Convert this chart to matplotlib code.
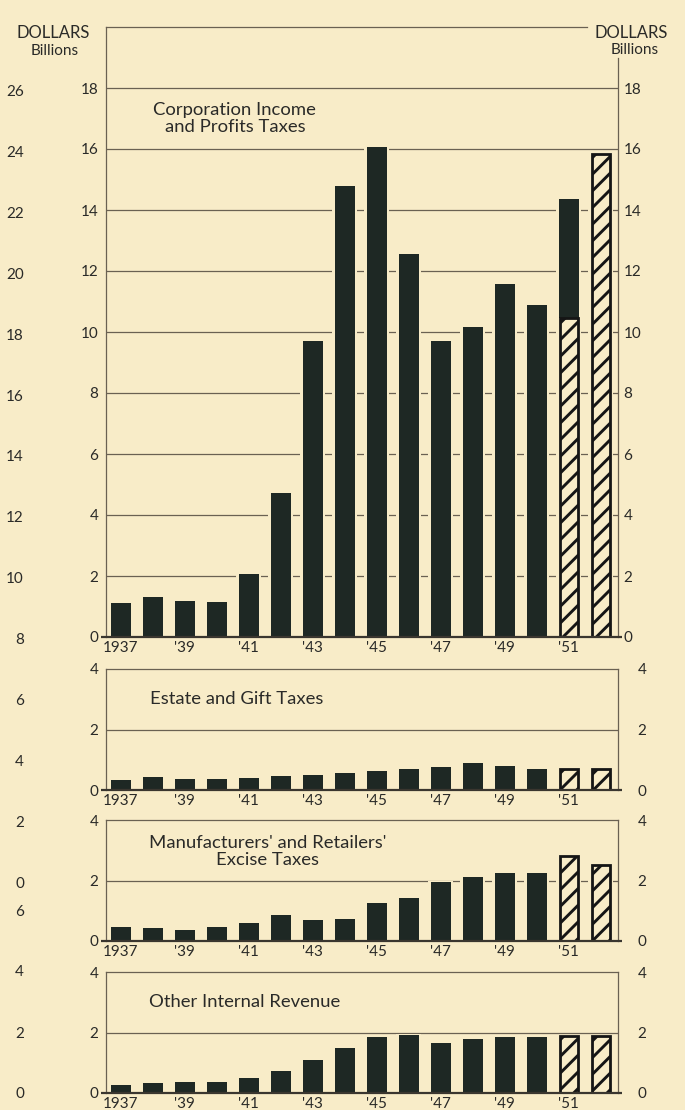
import matplotlib
matplotlib.use("Agg")
import matplotlib.pyplot as plt
import numpy as np

# ---------------- data ----------------
years = list(range(1937, 1953))
year_tick_years = [1937, 1939, 1941, 1943, 1945, 1947, 1949, 1951]
year_tick_labels = ["1937", "'39", "'41", "'43", "'45", "'47", "'49", "'51"]

# Corporation income and profits taxes (billions of dollars)
corp_total = [1.12, 1.32, 1.17, 1.16, 2.08, 4.72, 9.71, 14.80, 16.08, 12.57,
              9.71, 10.18, 11.57, 10.87, 14.37, 15.82]
corp_hatched = [0, 0, 0, 0, 0, 0, 0, 0, 0, 0, 0, 0, 0, 0, 10.47, 15.82]

# Estate and gift taxes
estate_total = [0.32, 0.43, 0.36, 0.36, 0.41, 0.45, 0.48, 0.55, 0.64, 0.69,
                0.76, 0.90, 0.79, 0.68, 0.71, 0.69]
estate_hatched = [0, 0, 0, 0, 0, 0, 0, 0, 0, 0, 0, 0, 0, 0, 0.71, 0.69]

# Manufacturers' and retailers' excise taxes
excise_total = [0.47, 0.42, 0.36, 0.47, 0.61, 0.86, 0.70, 0.72, 1.25, 1.43,
                1.96, 2.13, 2.24, 2.26, 2.81, 2.52]
excise_hatched = [0, 0, 0, 0, 0, 0, 0, 0, 0, 0, 0, 0, 0, 0, 2.81, 2.52]

# Other internal revenue
other_total = [0.27, 0.32, 0.35, 0.37, 0.49, 0.73, 1.10, 1.50, 1.86, 1.93,
               1.66, 1.77, 1.84, 1.84, 1.87, 1.87]
other_hatched = [0, 0, 0, 0, 0, 0, 0, 0, 0, 0, 0, 0, 0, 0, 1.87, 1.87]

panel_titles = ["Corporation Income\nand Profits Taxes",
                "Estate and Gift Taxes",
                "Manufacturers' and Retailers'\nExcise Taxes",
                "Other Internal Revenue"]

main_ticks = [0, 2, 4, 6, 8, 10, 12, 14, 16, 18]
sub_ticks = [0, 2, 4]
# axis labels of the neighbouring chart visible at the left edge
side_ticks_upper = [0, 2, 4, 6, 8, 10, 12, 14, 16, 18, 20, 22, 24, 26]
side_ticks_lower = [0, 2, 4, 6]

# ---------------- style ----------------
BG = "#F8ECC8"
BAR = "#1E2824"
LINE = "#6A6152"
TXT = "#2A2A28"
FONT = "Lato"
TICK_FS = 11
TITLE_FS = 13.3

plt.rcParams["font.family"] = [FONT, "DejaVu Sans"]
plt.rcParams["hatch.linewidth"] = 2.1
plt.rcParams["hatch.color"] = "#151515"

W_PX, H_PX = 685, 1110
fig = plt.figure(figsize=(W_PX / 100, H_PX / 100), dpi=100, facecolor=BG)

X_LEFT_PX, X_RIGHT_PX = 106.5, 618.0


def add_ax(top_px, bottom_px):
    return fig.add_axes([X_LEFT_PX / W_PX, 1 - bottom_px / H_PX,
                         (X_RIGHT_PX - X_LEFT_PX) / W_PX,
                         (bottom_px - top_px) / H_PX])


x = np.arange(len(years))
XMIN, XMAX = -0.44, 15.54
BW = 0.62


def draw_panel(ax, total, hatched, ymax, ticks, grid_vals, right_pad):
    ax.set_facecolor(BG)
    ax.set_xlim(XMIN, XMAX)
    ax.set_ylim(0, ymax)
    for g in grid_vals:
        ax.axhline(g, color=LINE, lw=0.9, zorder=1)
    total = np.array(total, dtype=float)
    hatched = np.array(hatched, dtype=float)
    # background halo that interrupts grid lines around bars
    ax.bar(x, total + ymax * 0.004, width=BW + 0.17, color=BG, zorder=1.5,
           linewidth=0)
    dark_h = total - hatched
    m = dark_h > 0
    ax.bar(x[m], dark_h[m], bottom=hatched[m], width=BW, color=BAR,
           zorder=3, linewidth=0)
    h = hatched > 0
    ax.bar(x[h], hatched[h], width=BW - 0.05, facecolor=BG,
           edgecolor="#151515", hatch="//", linewidth=2.0, zorder=3)
    # baseline slightly longer than the frame
    ax.plot([XMIN - 0.17, XMAX + 0.12], [0, 0], color="#3a362f", lw=1.6,
            clip_on=False, zorder=4, solid_capstyle="butt")
    for s in ax.spines.values():
        s.set_color(LINE)
        s.set_linewidth(0.9)
    ax.spines["bottom"].set_visible(False)
    ax.set_yticks(ticks)
    ax.set_yticklabels([str(t) for t in ticks])
    ax.tick_params(axis="y", length=0, labelsize=TICK_FS, colors=TXT, pad=6,
                   labelleft=True, labelright=False)
    ax.set_xticks([years.index(y) for y in year_tick_years])
    ax.set_xticklabels(year_tick_labels)
    ax.tick_params(axis="x", length=0, labelsize=TICK_FS, colors=TXT, pad=3)
    # right-hand tick labels
    tw = ax.twinx()
    tw.set_ylim(0, ymax)
    tw.set_yticks(ticks)
    tw.set_yticklabels([str(t) for t in ticks])
    tw.tick_params(axis="y", length=0, labelsize=TICK_FS, colors=TXT,
                   pad=right_pad)
    for s in tw.spines.values():
        s.set_visible(False)
    return tw


# main panel
ax0 = add_ax(27, 637)
draw_panel(ax0, corp_total, corp_hatched, 20, main_ticks,
           [2, 4, 6, 8, 10, 12, 14, 16, 18], 4)
ax0.spines["right"].set_bounds(0, 19.0)
ax0.spines["top"].set_bounds(XMIN, 14.57)
ax0.text(3.57, 17.0, panel_titles[0], ha="center", va="center",
         multialignment="center", fontsize=TITLE_FS, color=TXT,
         linespacing=1.02)

ax1 = add_ax(669, 790)
draw_panel(ax1, estate_total, estate_hatched, 4, sub_ticks, [2], 14)
ax1.text(0.92, 3.0, panel_titles[1], ha="left", va="center",
         fontsize=TITLE_FS, color=TXT)

ax2 = add_ax(820, 941)
draw_panel(ax2, excise_total, excise_hatched, 4, sub_ticks, [2], 14)
ax2.text(4.6, 2.95, panel_titles[2], ha="center", va="center",
         multialignment="center", fontsize=TITLE_FS, color=TXT,
         linespacing=1.08)

ax3 = add_ax(972, 1093)
draw_panel(ax3, other_total, other_hatched, 4, sub_ticks, [2], 14)
ax3.text(0.88, 3.0, panel_titles[3], ha="left", va="center",
         fontsize=TITLE_FS, color=TXT)

# unit labels
for (cx, cy, s) in [(53, 33, "DOLLARS"), (55, 51, "Billions"),
                    (631.5, 33, "DOLLARS"), (634.5, 50, "Billions")]:
    fig.text(cx / W_PX, 1 - cy / H_PX, s, ha="center", va="center",
             fontsize=12 if s == "DOLLARS" else 11, color=TXT)


# neighbouring chart's axis numbers at the far left
def side_axis(top_px, bottom_px, ymax, ticks):
    a = fig.add_axes([24 / W_PX, 1 - bottom_px / H_PX, 0.0005,
                      (bottom_px - top_px) / H_PX])
    a.set_ylim(0, ymax)
    a.patch.set_visible(False)
    for s in a.spines.values():
        s.set_visible(False)
    a.set_xticks([])
    a.set_yticks(ticks)
    a.set_yticklabels([str(t) for t in ticks])
    a.tick_params(axis="y", length=0, pad=0, labelsize=TICK_FS, colors=TXT)
    return a


side_axis(90.7, 882, 26, side_ticks_upper)
side_axis(910, 1093, 6, side_ticks_lower)

fig.savefig("out.png", dpi=100, facecolor=BG)
